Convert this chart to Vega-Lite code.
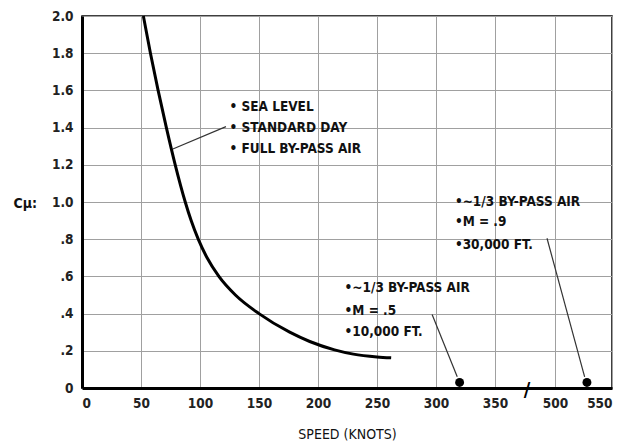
{
  "$schema": "https://vega.github.io/schema/vega-lite/v6.json",
  "autosize": "none",
  "width": 530,
  "height": 372,
  "padding": {"left": 82, "top": 16, "right": 25, "bottom": 59},
  "background": "white",
  "config": {
    "view": {"stroke": "black", "strokeWidth": 1.5},
    "font": "DejaVu Sans Condensed",
    "axis": {
      "gridColor": "#a0a0a0",
      "gridWidth": 1,
      "gridOpacity": 1,
      "domainColor": "black",
      "domainWidth": 3,
      "ticks": false,
      "labelFont": "DejaVu Sans Condensed",
      "labelFontSize": 13.5,
      "labelFontWeight": "bold",
      "labelColor": "#222",
      "titleFont": "DejaVu Sans Condensed",
      "titleFontSize": 14,
      "titleFontWeight": "normal",
      "titleColor": "#111"
    }
  },
  "datasets": {
    "curve": [
      {"speed": 52, "cmu": 2.0},
      {"speed": 58, "cmu": 1.8},
      {"speed": 64.5, "cmu": 1.6},
      {"speed": 71.5, "cmu": 1.4},
      {"speed": 79, "cmu": 1.2},
      {"speed": 87.5, "cmu": 1.0},
      {"speed": 92.5, "cmu": 0.9},
      {"speed": 98.5, "cmu": 0.8},
      {"speed": 106, "cmu": 0.7},
      {"speed": 116, "cmu": 0.6},
      {"speed": 130, "cmu": 0.5},
      {"speed": 150, "cmu": 0.4},
      {"speed": 176, "cmu": 0.3},
      {"speed": 193, "cmu": 0.25},
      {"speed": 214, "cmu": 0.205},
      {"speed": 230, "cmu": 0.182},
      {"speed": 250, "cmu": 0.167},
      {"speed": 262, "cmu": 0.162}
    ],
    "points": [
      {"speed": 320, "cmu": 0.03},
      {"speed": 528, "cmu": 0.03}
    ],
    "leaders": [
      {"x1": 122, "y1": 1.405, "x2": 77, "y2": 1.285},
      {"x1": 480, "y1": 0.805, "x2": 526, "y2": 0.06},
      {"x1": 296.7, "y1": 0.395, "x2": 318, "y2": 0.06}
    ],
    "notes": [
      {"speed": 125, "cmu": 1.51, "text": "• SEA LEVEL"},
      {"speed": 125, "cmu": 1.4, "text": "• STANDARD DAY"},
      {"speed": 125, "cmu": 1.285, "text": "• FULL BY-PASS AIR"},
      {"speed": 316, "cmu": 1.0, "text": "•~1/3 BY-PASS AIR"},
      {"speed": 316, "cmu": 0.89, "text": "•M = .9"},
      {"speed": 316, "cmu": 0.77, "text": "•30,000 FT."},
      {"speed": 222.5, "cmu": 0.535, "text": "•~1/3 BY-PASS AIR"},
      {"speed": 222.5, "cmu": 0.416, "text": "•M = .5"},
      {"speed": 222.5, "cmu": 0.3, "text": "•10,000 FT."}
    ],
    "brk": [
      {"speed": 430, "cmu": 0.0, "text": "/"}
    ]
  },
  "encoding": {
    "x": {
      "field": "speed",
      "type": "quantitative",
      "scale": {"domain": [0, 350, 500, 550], "range": [0, 413, 473, 530], "nice": false, "zero": false},
      "axis": {
        "values": [0, 50, 100, 150, 200, 250, 300, 350, 500, 550],
        "title": "SPEED (KNOTS)",
        "labelPadding": 8,
        "titlePadding": 18
      }
    },
    "y": {
      "field": "cmu",
      "type": "quantitative",
      "scale": {"domain": [0, 2], "nice": false},
      "axis": {
        "values": [0, 0.2, 0.4, 0.6, 0.8, 1.0, 1.2, 1.4, 1.6, 1.8, 2.0],
        "labelExpr": "datum.value == 0 ? '0' : (datum.value >= 1 ? format(datum.value, '.1f') : replace(format(datum.value, '.1f'), '0.', '.'))",
        "labelPadding": 9,
        "title": "Cμ:",
        "titleAngle": 0,
        "titleAlign": "left",
        "titleBaseline": "middle",
        "titleX": -69,
        "titleY": 187,
        "titleFontWeight": "bold"
      }
    }
  },
  "layer": [
    {
      "data": {"name": "curve"},
      "mark": {"type": "line", "color": "black", "strokeWidth": 3, "interpolate": "monotone"}
    },
    {
      "data": {"name": "leaders"},
      "mark": {"type": "rule", "color": "#333", "strokeWidth": 1.2},
      "encoding": {
        "x": {"field": "x1", "type": "quantitative"},
        "y": {"field": "y1", "type": "quantitative"},
        "x2": {"field": "x2"},
        "y2": {"field": "y2"}
      }
    },
    {
      "data": {"name": "points"},
      "mark": {"type": "point", "filled": true, "color": "black", "size": 80, "opacity": 1}
    },
    {
      "data": {"name": "notes"},
      "mark": {"type": "text", "align": "left", "baseline": "middle", "fontSize": 13.5, "fontWeight": "bold", "color": "#111", "font": "DejaVu Sans Condensed"},
      "encoding": {"text": {"field": "text"}}
    },
    {
      "data": {"name": "brk"},
      "mark": {"type": "text", "align": "center", "baseline": "middle", "fontSize": 20, "fontWeight": "bold", "color": "black", "dy": 2},
      "encoding": {"text": {"field": "text"}}
    }
  ]
}
